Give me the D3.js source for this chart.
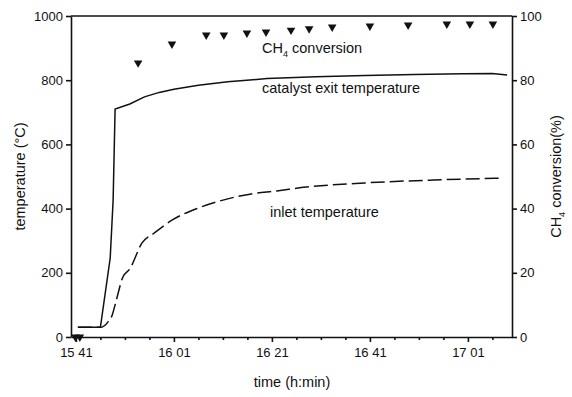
<!DOCTYPE html>
<html lang="en">
<head>
<script src="https://d3js.org/d3.v7.min.js"></script>
<style>
    body { margin: 0; background: #fff; }
    svg text { font-family: "Liberation Sans", Arial, sans-serif; fill: #111; }
    .axis path, .axis line { stroke: #111; stroke-width: 1.6; }
</style>
</head>
<body>
<svg id="chart" width="572" height="397"></svg>
<script>
    // time in minutes after 15:40
    const exitTime = [1.4, 6, 8.0, 8.6, 9.0, 12, 15, 18, 21, 26, 32, 40, 50, 60, 70, 80, 86, 89];
    const exitTemp = [30, 30, 246, 427, 710, 726, 748, 762, 772, 784, 795, 805, 811, 815, 818, 820, 821, 816];

    const inletTime = [1.4, 6, 7.6, 8.4, 9.0, 10.6, 12, 14.5, 17, 20.6, 26, 30.4, 36.5, 42, 48, 60, 74, 88];
    const inletTemp = [30, 30, 48, 68, 100, 187, 212, 293, 324, 364, 402, 424, 445, 455, 467, 480, 489, 495];

    const convTime = [0.9, 1.8, 13.7, 20.6, 27.6, 31.2, 35.9, 39.8, 44.9, 48.6, 53.3, 61.0, 68.8, 76.7, 81.4, 86.1];
    const convValue = [0, 0, 85.4, 91.3, 94.1, 94.1, 94.7, 95.0, 95.6, 96.0, 96.6, 96.9, 97.2, 97.5, 97.5, 97.5];

    const timeTicks = [1, 21, 41, 61, 81];
    const timeLabels = ["15 41", "16 01", "16 21", "16 41", "17 01"];
    const minorTicks = [6, 11, 16, 26, 31, 36, 46, 51, 56, 66, 71, 76, 86];
    const tempTicks = [0, 200, 400, 600, 800, 1000];
    const convTicks = [0, 20, 40, 60, 80, 100];

    const svg = d3.select("#chart");
    const plotLeft = 71, plotRight = 512, plotTop = 16, plotBottom = 337;

    const x = d3.scaleLinear().domain([0, 90]).range([plotLeft, plotRight]);
    const y = d3.scaleLinear().domain([0, 1000]).range([plotBottom, plotTop]);
    const y2 = d3.scaleLinear().domain([0, 100]).range([plotBottom, plotTop]);

    // top border
    svg.append("line")
        .attr("x1", plotLeft).attr("x2", plotRight)
        .attr("y1", plotTop).attr("y2", plotTop)
        .attr("stroke", "#111").attr("stroke-width", 1.6);

    // minor x ticks
    svg.append("g").attr("class", "axis")
        .attr("transform", `translate(0,${plotBottom})`)
        .call(d3.axisBottom(x).tickValues(minorTicks).tickSize(3).tickSizeOuter(0).tickFormat(""))
        .select(".domain").remove();

    svg.append("g").attr("class", "axis")
        .attr("transform", `translate(0,${plotBottom})`)
        .call(d3.axisBottom(x).tickValues(timeTicks).tickSize(5).tickSizeOuter(0)
            .tickFormat((d, i) => timeLabels[i]))
        .call(g => g.selectAll("text").attr("font-size", 13).attr("dy", "0.95em"));

    svg.append("g").attr("class", "axis")
        .attr("transform", `translate(${plotLeft},0)`)
        .call(d3.axisLeft(y).tickValues(tempTicks).tickSize(5).tickSizeOuter(0).tickFormat(d3.format("d")))
        .call(g => g.selectAll("text").attr("font-size", 13));

    svg.append("g").attr("class", "axis")
        .attr("transform", `translate(${plotRight},0)`)
        .call(d3.axisRight(y2).tickValues(convTicks).tickSize(5).tickSizeOuter(0).tickFormat(d3.format("d")))
        .call(g => g.selectAll("text").attr("font-size", 13));

    const line = d3.line().x(d => x(d[0])).y(d => y(d[1]));

    svg.append("path")
        .datum(d3.zip(exitTime, exitTemp))
        .attr("d", line)
        .attr("fill", "none")
        .attr("stroke", "#111")
        .attr("stroke-width", 1.5);

    svg.append("path")
        .datum(d3.zip(inletTime, inletTemp))
        .attr("d", line.curve(d3.curveMonotoneX))
        .attr("fill", "none")
        .attr("stroke", "#111")
        .attr("stroke-width", 1.5)
        .attr("stroke-dasharray", "14,5");

    const tri = d3.symbol().type(d3.symbolTriangle).size(32);
    svg.selectAll("path.conv")
        .data(d3.zip(convTime, convValue))
        .join("path")
        .attr("class", "conv")
        .attr("d", tri)
        .attr("fill", "#111")
        .attr("transform", d => `translate(${x(d[0])},${y2(d[1])}) rotate(180)`);

    // labels
    const lab = svg.append("g").attr("font-size", 14.5);
    const ch4 = lab.append("text").attr("x", 262).attr("y", 53);
    ch4.append("tspan").text("CH");
    ch4.append("tspan").attr("font-size", 9).attr("dy", 4).text("4");
    ch4.append("tspan").attr("dy", -4).text(" conversion");

    lab.append("text").attr("x", 262).attr("y", 93).text("catalyst exit temperature");
    lab.append("text").attr("x", 270).attr("y", 217).text("inlet temperature");

    lab.append("text").attr("x", 292).attr("y", 387)
        .attr("text-anchor", "middle").text("time (h:min)");

    lab.append("text")
        .attr("transform", `translate(25,${(plotTop + plotBottom) / 2}) rotate(-90)`)
        .attr("text-anchor", "middle").text("temperature (°C)");

    const rt = lab.append("text")
        .attr("transform", `translate(561,${(plotTop + plotBottom) / 2}) rotate(-90)`)
        .attr("text-anchor", "middle");
    rt.append("tspan").text("CH");
    rt.append("tspan").attr("font-size", 9).attr("dy", 4).text("4");
    rt.append("tspan").attr("dy", -4).text(" conversion(%)");
</script>
</body>
</html>
